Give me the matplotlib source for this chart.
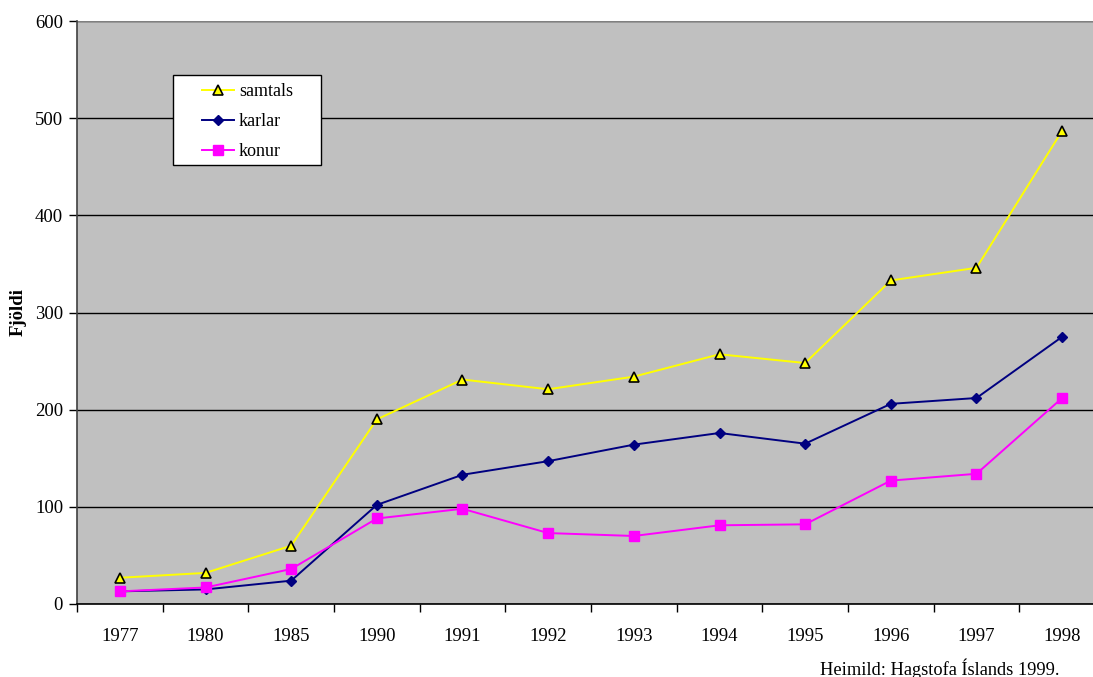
import matplotlib.pyplot as plt
from matplotlib.patches import Rectangle
import numpy as np

plt.rcParams['font.family'] = ['Liberation Serif', 'DejaVu Serif']

# Data
years = ["1977", "1980", "1985", "1990", "1991", "1992", "1993",
         "1994", "1995", "1996", "1997", "1998"]
samtals = [27, 32, 60, 190, 231, 221, 234, 257, 248, 333, 346, 487]
karlar = [13, 15, 24, 102, 133, 147, 164, 176, 165, 206, 212, 275]
konur = [13, 17, 36, 88, 98, 73, 70, 81, 82, 127, 134, 212]

W, H = 1093, 677
fig = plt.figure(figsize=(W / 100, H / 100), dpi=100)
# plot area runs past the right edge of the picture, as in the original
ax = fig.add_axes([77 / W, 73 / H, 1028 / W, 583 / H])
ax.set_facecolor("#C0C0C0")

x = np.arange(len(years))
ax.plot(x, samtals, color="#FFFF00", lw=1.4, marker="^", ms=7,
        mfc="#FFFF00", mec="black", mew=1.2, label="samtals", zorder=3)
ax.plot(x, karlar, color="#000080", lw=1.4, marker="D", ms=5.5,
        mfc="#000080", mec="#000080", label="karlar", zorder=3)
ax.plot(x, konur, color="#FF00FF", lw=1.4, marker="s", ms=7,
        mfc="#FF00FF", mec="#FF00FF", label="konur", zorder=3)

ax.set_xlim(-0.5, len(years) - 0.5)
ax.set_ylim(0, 600)
ax.set_yticks(range(0, 601, 100))
ax.yaxis.grid(True, color="black", lw=1.0)
ax.set_axisbelow(True)

# category labels centred, tick marks between categories
ax.set_xticks(x)
ax.set_xticklabels(years, fontsize=13.5)
ax.set_xticks(np.arange(-0.5, len(years) + 0.5, 1), minor=True)
ax.tick_params(axis="x", which="major", length=0, pad=17)
ax.tick_params(axis="x", which="minor", length=6, width=1, direction="out")
ax.tick_params(axis="y", length=6, width=1, direction="out", labelsize=13.5, pad=4)

for side in ["top", "right"]:
    ax.spines[side].set_visible(False)
ax.spines["left"].set_color("#404040")
ax.spines["bottom"].set_color("black")
ax.spines["left"].set_linewidth(1.2)
ax.spines["bottom"].set_linewidth(1.2)
ax.axhline(600, color="#808080", lw=1.5, zorder=1)

ax.set_ylabel("Fjöldi", fontsize=13.5, fontweight="bold")
ax.yaxis.set_label_coords((27 - 77) / 1028, 0.5)

# legend box drawn separately so it can be wider than its contents
fig.patches.append(Rectangle((173 / W, 1 - 165 / H), 148 / W, 90 / H,
                             transform=fig.transFigure, facecolor="white",
                             edgecolor="black", lw=1.0, zorder=5))
leg = fig.legend(*ax.get_legend_handles_labels(), loc="upper left",
                 bbox_to_anchor=(202 / W, 1 - 83 / H),
                 fontsize=13, frameon=False, borderpad=0,
                 handlelength=1.75, handletextpad=0.3, labelspacing=0.72,
                 borderaxespad=0)
leg.set_zorder(6)

fig.text(1060 / W, 1 - 675 / H, "Heimild: Hagstofa Íslands 1999.",
         ha="right", va="baseline", fontsize=13.2)

fig.savefig("out.png", dpi=100)
